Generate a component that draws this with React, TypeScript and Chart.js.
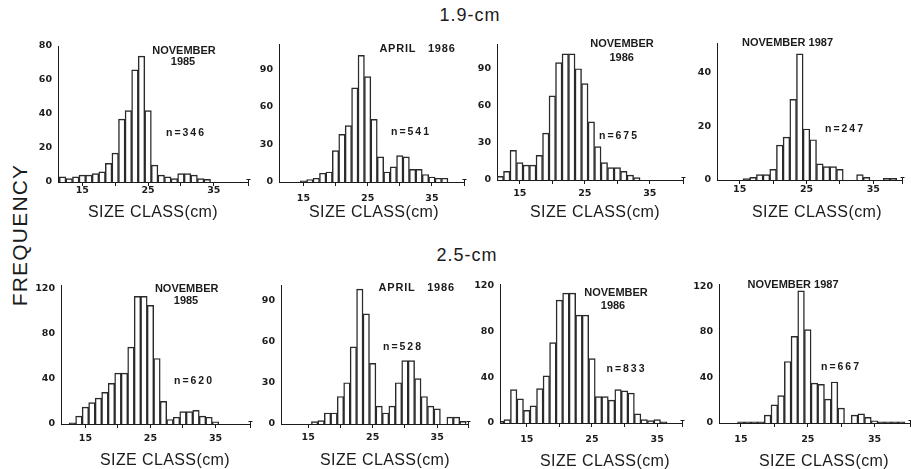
import React, { useEffect, useRef } from "react";
import { Chart, registerables } from "chart.js";

Chart.register(...registerables);

// ---------------- data ----------------
const SIZE_CLASSES = [11, 12, 13, 14, 15, 16, 17, 18, 19, 20, 21, 22, 23, 24, 25, 26, 27, 28, 29, 30, 31, 32, 33, 34, 35, 36, 37, 38, 39, 40];
const X_TICK_VALUES = [15, 20, 25, 30, 35];
const X_TICK_LABELS = ["15", "25", "35"];

// 1.9-cm mesh
const FREQ_19_NOV1985 = [0, 3, 2, 3, 4, 4, 5, 6, 11, 17, 37, 42, 66, 74, 42, 10, 4, 3, 2, 5, 5, 4, 2, 1.5, 0, 0, 0, 0, 0, 0];
const FREQ_19_APR1986 = [0, 0, 0, 0, 1, 2, 3, 7, 8, 25, 38, 45, 75, 101, 84, 50, 20, 8, 12, 21, 20, 10, 10, 6, 4, 3, 3, 0, 0, 0];
const FREQ_19_NOV1986 = [0, 3, 7, 24, 14, 12, 12, 20, 38, 68, 95, 102, 102, 90, 78, 47, 27, 14, 10, 10, 7, 4, 2, 0, 0, 0, 0, 0, 0, 0];
const FREQ_19_NOV1987 = [0, 0, 0, 0, 0, 0.5, 1, 2, 2, 4, 13, 16, 30, 47, 19, 15, 6, 5, 5, 4, 0, 0, 2, 1, 0, 0, 0.6, 0.6, 0, 0];
// 2.5-cm mesh
const FREQ_25_NOV1985 = [0, 0, 1, 7, 15, 19, 23, 28, 36, 45, 45, 68, 113, 113, 105, 58, 20, 4, 6, 11, 11, 12, 7, 6, 2, 0, 0, 0, 0, 0];
const FREQ_25_APR1986 = [0, 0, 0, 0, 0, 1.7, 2.4, 8, 8, 20, 30, 56, 98, 80, 44, 13, 8, 13, 30, 46, 46, 33, 20, 13, 11, 0, 5, 5, 2, 0];
const FREQ_25_NOV1986 = [1.5, 3, 29, 21, 11, 15, 30, 41, 70, 107, 113, 113, 94, 94, 56, 23, 23, 20, 29, 28, 26, 8, 3, 2, 3, 1, 0, 0, 0, 0];
const FREQ_25_NOV1987 = [0, 0, 0, 0, 1, 1, 1, 1, 7, 16, 24, 54, 76, 116, 82, 35, 34, 21, 36, 13, 0, 7, 8, 5, 2, 1, 1, 1, 1, 0];

const Y_TICKS_19_NOV1985 = [0, 20, 40, 60, 80];
const Y_TICKS_19_APR1986 = [0, 30, 60, 90];
const Y_TICKS_19_NOV1986 = [0, 30, 60, 90];
const Y_TICKS_19_NOV1987 = [0, 20, 40];
const Y_TICKS_25_NOV1985 = [0, 40, 80, 120];
const Y_TICKS_25_APR1986 = [0, 30, 60, 90];
const Y_TICKS_25_NOV1986 = [0, 40, 80, 120];
const Y_TICKS_25_NOV1987 = [0, 40, 80, 120];

const SAMPLE_SIZES = ["n=346", "n=541", "n=675", "n=247", "n=620", "n=528", "n=833", "n=667"];
const X_TITLE = "SIZE CLASS(cm)";

// ---------------- layout / styles ----------------
const INK = "#1b1b1b";
const FAMILY = '"Liberation Sans", Arial, sans-serif';
const TICK_FAMILY = '"DejaVu Sans", "Liberation Sans", sans-serif';
const DATE_FONT = `bold 11px ${FAMILY}`;
const N_FONT = `bold 10.5px ${FAMILY}`;
const TITLE_FONT = `16px ${FAMILY}`;

type TextItem = { text: string; x: number; y: number; font: string; ls: string };
type PanelCfg = {
  values: number[];
  yTicks: number[];
  yMax: number;
  xMin: number;
  xMax: number;
  area: { l: number; t: number; r: number; b: number };
  tickPad: number;
  texts: TextItem[];
};

const d = (text: string, x: number, y: number, ls = "0px"): TextItem => ({ text, x, y, font: DATE_FONT, ls });
const n = (text: string, x: number, y: number): TextItem => ({ text, x, y, font: N_FONT, ls: "2px" });
const t = (x: number, y: number): TextItem => ({ text: X_TITLE, x, y, font: TITLE_FONT, ls: "0.4px" });

const PANELS: PanelCfg[] = [
  {
    values: FREQ_19_NOV1985, yTicks: Y_TICKS_19_NOV1985, yMax: 80, xMin: 11.3, xMax: 40.2,
    area: { l: 58, t: 46, r: 248, b: 182 }, tickPad: -1.5,
    texts: [d("NOVEMBER", 184, 51), d("1985", 183, 62), n(SAMPLE_SIZES[0], 186, 133), t(153, 212.5)],
  },
  {
    values: FREQ_19_APR1986, yTicks: Y_TICKS_19_APR1986, yMax: 110, xMin: 11.2, xMax: 40.0,
    area: { l: 279, t: 44, r: 464, b: 182 }, tickPad: 6.5,
    texts: [d("APRIL   1986", 417.5, 49, "0.8px"), n(SAMPLE_SIZES[1], 411, 132.5), t(374, 212.5)],
  },
  {
    values: FREQ_19_NOV1986, yTicks: Y_TICKS_19_NOV1986, yMax: 110, xMin: 11.5, xMax: 40.1,
    area: { l: 497, t: 44, r: 683, b: 180 }, tickPad: 3.5,
    texts: [d("NOVEMBER", 622, 44), d("1986", 621.7, 57.5), n(SAMPLE_SIZES[2], 619, 136), t(595, 212.5)],
  },
  {
    values: FREQ_19_NOV1987, yTicks: Y_TICKS_19_NOV1987, yMax: 51, xMin: 11.6, xMax: 39.3,
    area: { l: 717, t: 43, r: 902, b: 180 }, tickPad: -0.5,
    texts: [d("NOVEMBER 1987", 787.5, 43), n(SAMPLE_SIZES[3], 845, 129), t(817, 212.5)],
  },
  {
    values: FREQ_25_NOV1985, yTicks: Y_TICKS_25_NOV1985, yMax: 123, xMin: 11.25, xMax: 40.3,
    area: { l: 61, t: 285, r: 250, b: 424 }, tickPad: 4.5,
    texts: [d("NOVEMBER", 186.7, 289), d("1985", 186, 301), n(SAMPLE_SIZES[4], 194, 381), t(165, 461)],
  },
  {
    values: FREQ_25_APR1986, yTicks: Y_TICKS_25_APR1986, yMax: 101, xMin: 10.78, xMax: 39.78,
    area: { l: 281, t: 285, r: 468, b: 424 }, tickPad: 3.5,
    texts: [d("APRIL   1986", 416.7, 287.5, "0.8px"), n(SAMPLE_SIZES[5], 403, 346.7), t(385, 461)],
  },
  {
    values: FREQ_25_NOV1986, yTicks: Y_TICKS_25_NOV1986, yMax: 121, xMin: 10.9, xMax: 38.8,
    area: { l: 500, t: 284, r: 682, b: 423 }, tickPad: 6.5,
    texts: [d("NOVEMBER", 616, 293), d("1986", 613, 306), n(SAMPLE_SIZES[6], 626.5, 369), t(605, 462)],
  },
  {
    values: FREQ_25_NOV1987, yTicks: Y_TICKS_25_NOV1987, yMax: 122, xMin: 11.72, xMax: 40.3,
    area: { l: 719, t: 284, r: 910, b: 423 }, tickPad: 6.5,
    texts: [d("NOVEMBER 1987", 793, 285), n(SAMPLE_SIZES[7], 841, 367), t(824, 462)],
  },
];

const PADL = 45;
const PADT = 25;
const PADR = 15;
const PADB = 55;

function Panel({ cfg }: { cfg: PanelCfg }) {
  const ref = useRef<HTMLCanvasElement | null>(null);
  const w = cfg.area.r - cfg.area.l + PADL + PADR;
  const h = cfg.area.b - cfg.area.t + PADT + PADB;
  const cx = cfg.area.l - PADL;
  const cy = cfg.area.t - PADT;

  useEffect(() => {
    if (!ref.current) return;
    const decor = {
      id: "panelDecor",
      afterDraw(chart: any) {
        const { ctx, chartArea } = chart;
        ctx.save();
        ctx.strokeStyle = INK;
        ctx.lineWidth = 1;
        const r = Math.round(chartArea.right) + 0.5;
        const b = Math.round(chartArea.bottom);
        ctx.beginPath();
        ctx.moveTo(r, b - 2);
        ctx.lineTo(r, b + 4);
        ctx.moveTo(r - 2, b - 2.5);
        ctx.lineTo(r + 2, b - 2.5);
        ctx.stroke();
        ctx.fillStyle = INK;
        ctx.textAlign = "center";
        ctx.textBaseline = "middle";
        for (const it of cfg.texts) {
          ctx.font = it.font;
          (ctx as any).letterSpacing = it.ls;
          ctx.fillText(it.text, it.x - cx, it.y - cy);
        }
        ctx.restore();
      },
    };
    const tickFont = { family: TICK_FAMILY, size: 9.5, weight: "bold" as const };
    const chart = new Chart(ref.current, {
      type: "bar",
      data: {
        datasets: [
          {
            data: SIZE_CLASSES.map((c, i) => ({ x: c, y: cfg.values[i] })),
            backgroundColor: "rgba(255,255,255,0)",
            borderColor: "#2a2a2a",
            borderWidth: 0.8,
            barPercentage: 1,
            categoryPercentage: 1,
          } as any,
        ],
      },
      options: {
        responsive: false,
        animation: false,
        devicePixelRatio: 1,
        events: [],
        layout: { padding: { left: 0, top: PADT, right: PADR, bottom: 0 } },
        plugins: { legend: { display: false }, tooltip: { enabled: false }, title: { display: false } },
        scales: {
          x: {
            type: "linear",
            min: cfg.xMin,
            max: cfg.xMax,
            offset: false,
            grid: { display: true, offset: false, drawOnChartArea: false, drawTicks: true, tickLength: 4, color: INK, lineWidth: 1 },
            border: { display: true, color: INK, width: 1 },
            ticks: {
              autoSkip: false,
              maxRotation: 0,
              padding: cfg.tickPad,
              color: INK,
              font: tickFont,
              callback: (v: any) => (X_TICK_LABELS.includes(String(v)) ? String(v) : ""),
            },
            afterBuildTicks: (s: any) => {
              s.ticks = X_TICK_VALUES.map((v) => ({ value: v }));
            },
            afterFit: (s: any) => {
              s.height = PADB;
            },
          },
          y: {
            type: "linear",
            min: 0,
            max: cfg.yMax,
            grid: { display: false, drawTicks: false },
            border: { display: true, color: INK, width: 1 },
            ticks: { padding: 6, color: INK, font: tickFont },
            afterBuildTicks: (s: any) => {
              s.ticks = cfg.yTicks.map((v) => ({ value: v }));
            },
            afterFit: (s: any) => {
              s.width = PADL;
            },
          },
        },
      } as any,
      plugins: [decor as any],
    });
    return () => chart.destroy();
  }, [cfg]);

  return (
    <canvas
      ref={ref}
      width={w}
      height={h}
      style={{ position: "absolute", left: cx, top: cy, width: w, height: h }}
    />
  );
}

export default function App() {
  return (
    <div
      style={{
        position: "fixed",
        left: 0,
        top: 0,
        width: 911,
        height: 469,
        background: "#fff",
        overflow: "hidden",
        fontFamily: FAMILY,
        color: INK,
      }}
    >
      <div style={{ position: "absolute", left: 470, top: 15, transform: "translate(-50%,-50%)", fontSize: 18, letterSpacing: 1, lineHeight: 1, whiteSpace: "nowrap" }}>
        1.9-cm
      </div>
      <div style={{ position: "absolute", left: 467, top: 255, transform: "translate(-50%,-50%)", fontSize: 18, letterSpacing: 1, lineHeight: 1, whiteSpace: "nowrap" }}>
        2.5-cm
      </div>
      <div style={{ position: "absolute", left: 19, top: 235, transform: "translate(-50%,-50%) rotate(-90deg)", fontSize: 21, letterSpacing: 1.2, lineHeight: 1, whiteSpace: "nowrap" }}>
        FREQUENCY
      </div>
      {PANELS.map((p, i) => (
        <Panel key={i} cfg={p} />
      ))}
    </div>
  );
}
